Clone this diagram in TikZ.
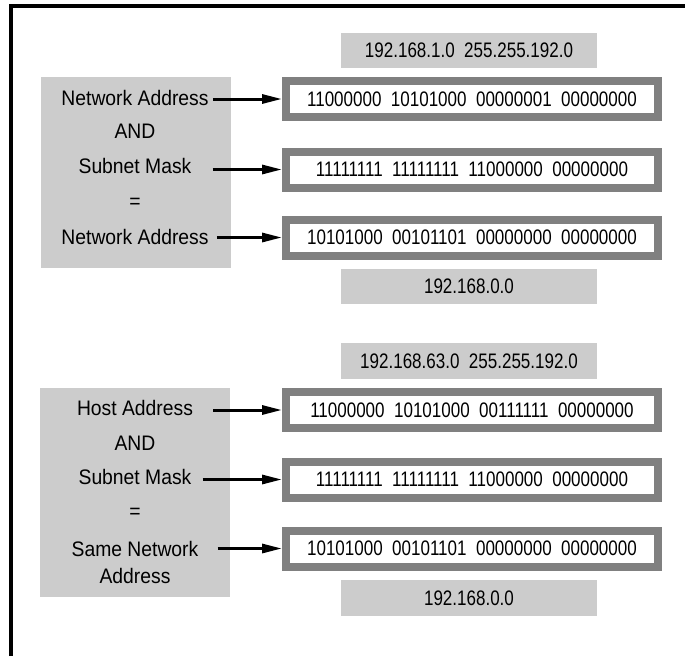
\documentclass[tikz,border=0pt]{standalone}
\usepackage{fontspec}
\setmainfont[FakeStretch=0.92]{Liberation Sans}
\newfontfamily\bitsfont[FakeStretch=0.81]{Liberation Sans}
\usetikzlibrary{arrows.meta}
\newcommand{\octets}[4]{#1\ \ #2\ \ #3\ \ #4}

\begin{document}
\begin{tikzpicture}[x=1pt, y=-1pt,
  lbl/.style={font=\fontsize{21}{27}\selectfont, inner sep=0pt, align=center},
  greybox/.style={fill=black!20, inner sep=0pt},
  ddbox/.style={greybox, minimum width=256pt, minimum height=35pt,
                font=\fontsize{21}{25}\selectfont\bitsfont},
  bitbox/.style={draw=black!50, line width=8pt, fill=white, minimum width=372pt,
                 minimum height=36pt, inner sep=0pt, font=\fontsize{21}{25}\selectfont\bitsfont},
  arr/.style={-{Triangle[length=20pt, width=9pt]}, line width=3pt}]
  \useasboundingbox (0,0) rectangle (685,656);
  % frame
  \draw[line width=4pt] (11,656) -- (11,6) -- (685,6);
  % network address AND mask
  \node[greybox, minimum width=190pt, minimum height=191pt] (lbox1) at (136,172.5) {};
  \node[lbl] (net1) at (135,98) {Network Address};
  \node[lbl] (and1) at (135,131) {AND};
  \node[lbl] (mask1) at (135,166) {Subnet Mask};
  \node[lbl] (eq1) at (135,203) {=};
  \node[lbl] (res1) at (135,237) {Network Address};
  \node[ddbox] (ddin1) at (469,50.5) {192.168.1.0\ \ 255.255.192.0};
  \node[bitbox] (bin1a) at (472,99) {\octets{11000000}{10101000}{00000001}{00000000}};
  \node[bitbox] (bin1b) at (472,169.5) {\octets{11111111}{11111111}{11000000}{00000000}};
  \node[bitbox] (bin1c) at (472,237.5) {\octets{10101000}{00101101}{00000000}{00000000}};
  \node[ddbox] (ddout1) at (469,286.5) {192.168.0.0};
  \draw[arr, shorten <=4pt] (bin1a.west -| net1.east) -- (bin1a.west);
  \draw[arr, shorten <=21pt] (bin1b.west -| mask1.east) -- (bin1b.west);
  \draw[arr, shorten <=8pt] (bin1c.west -| res1.east) -- (bin1c.west);
  % host address AND mask
  \node[greybox, minimum width=190pt, minimum height=209pt] (lbox2) at (135,492.5) {};
  \node[lbl] (host2) at (135,408) {Host Address};
  \node[lbl] (and2) at (135,443) {AND};
  \node[lbl] (mask2) at (135,477) {Subnet Mask};
  \node[lbl] (eq2) at (135,513) {=};
  \node[lbl] (res2) at (135,562.5) {Same Network\\Address};
  \node[ddbox, minimum height=36pt] (ddin2) at (469,361) {192.168.63.0\ \ 255.255.192.0};
  \node[bitbox] (bin2a) at (472,410) {\octets{11000000}{10101000}{00111111}{00000000}};
  \node[bitbox] (bin2b) at (472,479.5) {\octets{11111111}{11111111}{11000000}{00000000}};
  \node[bitbox] (bin2c) at (472,548.5) {\octets{10101000}{00101101}{00000000}{00000000}};
  \node[ddbox, minimum height=36pt] (ddout2) at (469,598) {192.168.0.0};
  \draw[arr, shorten <=20pt] (bin2a.west -| host2.east) -- (bin2a.west);
  \draw[arr, shorten <=11pt] (bin2b.west -| mask2.east) -- (bin2b.west);
  \draw[arr, shorten <=19pt] (bin2c.west -| res2.east) -- (bin2c.west);
\end{tikzpicture}
\end{document}
